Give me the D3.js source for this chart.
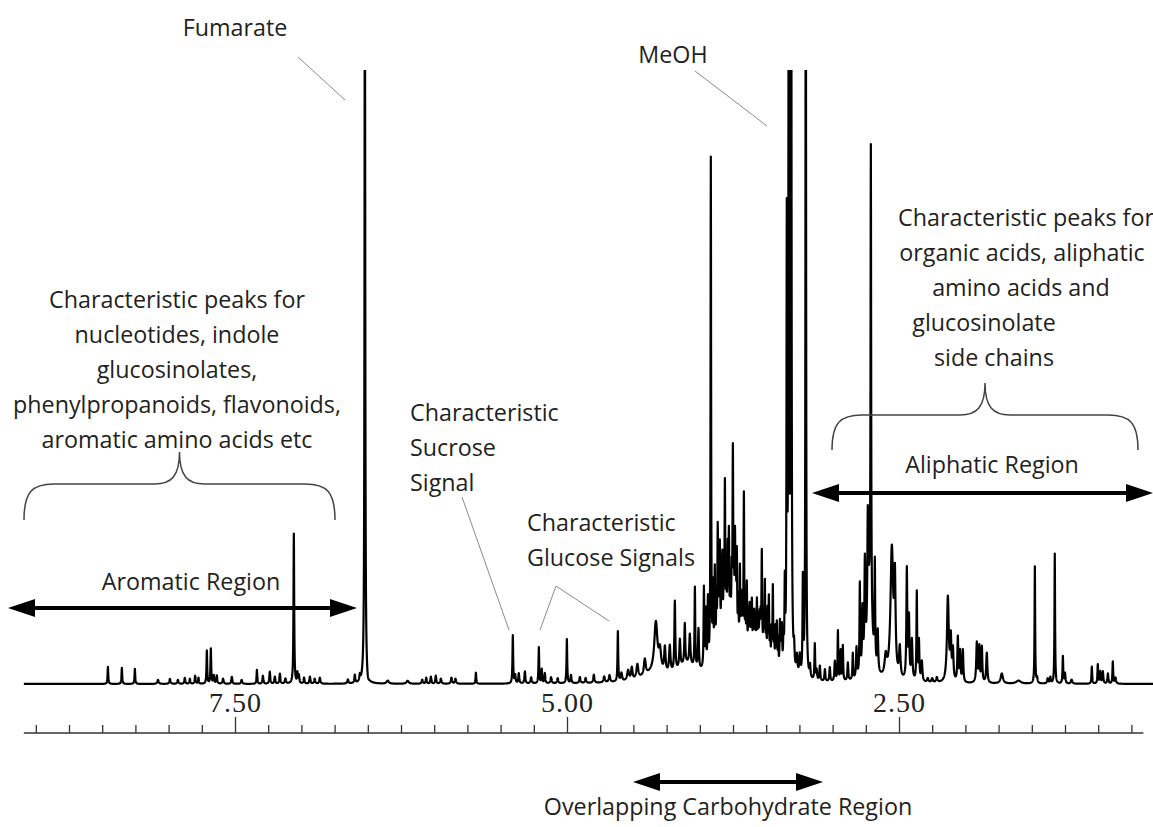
<!DOCTYPE html>
<html>
<head>
<meta charset="utf-8">
<script src="https://cdn.jsdelivr.net/npm/d3@7"></script>
<style>
  body { margin: 0; background: #fff; }
  svg { display: block; }
</style>
</head>
<body>
<svg id="chart" width="1153" height="827"></svg>
<script>
// Pics : [ppm, intensité (u.a.), demi-largeur en ppm]
const aromaticPeaks = [
  [8.457, 17, 0.003], [8.352, 16, 0.003], [8.254, 15, 0.003],
  [8.08, 4, 0.006], [7.99, 5, 0.005], [7.93, 4, 0.005], [7.878, 6, 0.004],
  [7.84, 5, 0.004], [7.80, 8, 0.004], [7.775, 6, 0.003],
  [7.712, 33, 0.003], [7.682, 35, 0.003], [7.66, 8, 0.004], [7.637, 8, 0.004],
  [7.59, 5, 0.005], [7.524, 7, 0.004], [7.45, 4, 0.005],
  [7.335, 14, 0.003], [7.29, 8, 0.004], [7.238, 12, 0.004], [7.20, 7, 0.004],
  [7.162, 10, 0.004], [7.12, 5, 0.005],
  [7.057, 150, 0.003], [7.03, 10, 0.003], [7.019, 8, 0.004], [6.98, 6, 0.004],
  [6.936, 7, 0.004], [6.90, 5, 0.005], [6.861, 6, 0.005],
  [6.65, 4, 0.005], [6.598, 8, 0.004], [6.56, 6, 0.004]
];

const fumaratePeaks = [
  [6.522, 800, 0.003], [6.50, -6, 0.01]
];

const olefinPeaks = [
  [6.35, 3, 0.01], [6.20, 3, 0.01], [6.09, 4, 0.005], [6.06, 6, 0.004],
  [6.025, 7, 0.004], [5.988, 8, 0.004], [5.95, 5, 0.005], [5.87, 6, 0.005],
  [5.84, 5, 0.005], [5.686, 11, 0.003]
];

const sugarPeaks = [
  [5.408, 48, 0.003], [5.39, 8, 0.004], [5.363, 10, 0.004], [5.317, 12, 0.004],
  [5.27, 6, 0.005], [5.212, 36, 0.003], [5.19, 14, 0.003], [5.167, 10, 0.004],
  [5.12, 6, 0.005], [5.07, 5, 0.005], [5.001, 44, 0.003], [4.97, 8, 0.004],
  [4.903, 6, 0.005], [4.86, 5, 0.005], [4.798, 8, 0.005], [4.72, 6, 0.006],
  [4.68, 7, 0.006], [4.617, 50, 0.003], [4.59, 8, 0.006], [4.54, 10, 0.008],
  [4.512, 12, 0.006], [4.47, 14, 0.008], [4.414, 16, 0.008],
  [4.331, 50, 0.014], [4.30, 20, 0.01], [4.263, 25, 0.006], [4.226, 27, 0.006],
  [4.188, 70, 0.004], [4.15, 28, 0.005], [4.113, 40, 0.004], [4.075, 30, 0.005],
  [4.037, 80, 0.003], [4.01, 40, 0.004], [3.969, 80, 0.003], [3.955, 55, 0.003],
  [3.939, 65, 0.003], [3.917, 505, 0.0025], [3.90, 70, 0.003], [3.887, 85, 0.003],
  [3.875, 50, 0.003], [3.865, 120, 0.003], [3.856, 45, 0.003], [3.849, 95, 0.003],
  [3.838, 50, 0.003], [3.83, 80, 0.003], [3.82, 50, 0.003], [3.811, 150, 0.003],
  [3.80, 55, 0.003], [3.79, 80, 0.003], [3.781, 95, 0.003], [3.77, 50, 0.003],
  [3.76, 55, 0.003], [3.751, 180, 0.003], [3.743, 50, 0.003], [3.735, 95, 0.003],
  [3.728, 45, 0.003], [3.721, 85, 0.003], [3.71, 45, 0.003], [3.698, 80, 0.003],
  [3.688, 45, 0.003], [3.68, 50, 0.003], [3.668, 160, 0.003], [3.656, 45, 0.003],
  [3.646, 70, 0.003], [3.635, 40, 0.003], [3.625, 50, 0.004], [3.615, 35, 0.003],
  [3.608, 50, 0.003], [3.598, 35, 0.003], [3.59, 40, 0.004], [3.58, 30, 0.003],
  [3.570, 50, 0.003], [3.56, 30, 0.003], [3.55, 35, 0.004], [3.542, 30, 0.003],
  [3.533, 100, 0.003], [3.52, 35, 0.003], [3.510, 75, 0.003], [3.50, 30, 0.003],
  [3.49, 50, 0.003], [3.480, 65, 0.003], [3.47, 30, 0.003], [3.46, 35, 0.003],
  [3.450, 80, 0.003], [3.44, 30, 0.003], [3.43, 40, 0.003], [3.420, 45, 0.003],
  [3.41, 30, 0.003], [3.397, 45, 0.003], [3.39, 30, 0.003], [3.382, 40, 0.003],
  [3.37, 30, 0.003], [3.360, 80, 0.003]
];

// bosses larges sous la zone des glucides
const carbHumps = [
  [3.78, 40, 0.09], [3.55, 20, 0.06], [4.10, 15, 0.08], [4.35, 8, 0.1]
];

const methylPeaks = [
  [3.345, 435, 0.0025], [3.33, 900, 0.003], [3.312, 900, 0.003],
  [3.29, 20, 0.004], [3.269, 18, 0.005], [3.247, 20, 0.005],
  [3.224, 95, 0.003], [3.202, 900, 0.0025]
];

const aliphaticPeaks = [
  [3.17, 12, 0.004], [3.134, 36, 0.003], [3.12, 10, 0.004], [3.096, 15, 0.004],
  [3.058, 12, 0.004], [3.021, 14, 0.004], [2.983, 20, 0.004], [2.96, 50, 0.003],
  [2.94, 30, 0.003], [2.923, 35, 0.003], [2.885, 18, 0.004], [2.848, 26, 0.003],
  [2.82, 30, 0.004], [2.795, 90, 0.003], [2.775, 60, 0.004], [2.757, 100, 0.004],
  [2.735, 110, 0.004], [2.712, 455, 0.0025], [2.72, 90, 0.02], [2.682, 100, 0.003],
  [2.66, 40, 0.004], [2.60, 20, 0.01], [2.554, 130, 0.012], [2.531, 90, 0.006],
  [2.494, 30, 0.006], [2.441, 110, 0.004], [2.425, 60, 0.004], [2.403, 40, 0.005],
  [2.366, 88, 0.003], [2.35, 40, 0.004], [2.328, 20, 0.005],
  [2.283, 4, 0.006], [2.25, 4, 0.006], [2.215, 5, 0.006],
  [2.132, 85, 0.008], [2.11, 40, 0.005], [2.094, 30, 0.005], [2.057, 44, 0.004],
  [2.04, 30, 0.004], [2.019, 32, 0.004], [1.914, 40, 0.005], [1.895, 35, 0.004],
  [1.876, 35, 0.004], [1.839, 30, 0.005], [1.726, 10, 0.01], [1.6, 3, 0.02],
  [1.477, 117, 0.0025], [1.46, 5, 0.004], [1.38, 5, 0.005], [1.36, 6, 0.004],
  [1.327, 130, 0.0025], [1.266, 27, 0.003], [1.25, 10, 0.004], [1.20, 4, 0.006],
  [1.048, 17, 0.003], [1.003, 19, 0.003], [0.985, 12, 0.004], [0.965, 12, 0.004],
  [0.927, 10, 0.004], [0.890, 22, 0.003], [0.87, 6, 0.005]
];

const tickValues = d3.range(34).map((i) => 9 - 0.25 * i);
const majorTicks = [7.5, 5.0, 2.5];
const tickLabels = ["7.50", "5.00", "2.50"];

const leftNote = ["Characteristic peaks for", "nucleotides, indole", "glucosinolates,",
  "phenylpropanoids, flavonoids,", "aromatic amino acids etc"];
const rightNote = ["Characteristic peaks for", "organic acids, aliphatic",
  "amino acids and", "glucosinolate", "side chains"];
const sucroseNote = ["Characteristic", "Sucrose", "Signal"];
const glucoseNote = ["Characteristic", "Glucose Signals"];

const allPeaks = [].concat(aromaticPeaks, fumaratePeaks, olefinPeaks, sugarPeaks,
  carbHumps, methylPeaks, aliphaticPeaks);

const W = 1153, H = 827;
const x = d3.scaleLinear().domain([9.0, 0.75]).range([35.8, 1131.4]);
const y = d3.scaleLinear().domain([0, 614]).range([684, 70]);

const svg = d3.select("#chart");
const FONT = "'Open Sans', 'Noto Sans', sans-serif";
const INK = "#231f20";

// Spectre : somme de lorentziennes des pics listés
const spectre = [];
for (let p = 9.09; p >= 0.57; p -= 0.001) {
  let v = 0;
  for (const [c, h, w] of allPeaks) v += h * w * w / (w * w + (p - c) * (p - c));
  spectre.push([p, v]);
}

svg.append("defs").append("clipPath").attr("id", "clip")
  .append("rect").attr("x", 0).attr("y", 70).attr("width", W).attr("height", H - 70);

svg.append("path")
  .datum(spectre)
  .attr("clip-path", "url(#clip)")
  .attr("fill", "none")
  .attr("stroke", "#000")
  .attr("stroke-width", 2.2)
  .attr("stroke-linejoin", "round")
  .attr("d", d3.line().x((d) => x(d[0])).y((d) => y(d[1])));

// Axe ppm
const axeY = 733;
svg.append("line")
  .attr("x1", x(9.09)).attr("x2", x(0.66))
  .attr("y1", axeY).attr("y2", axeY)
  .attr("stroke", "#333").attr("stroke-width", 1.5);

const axe = svg.append("g")
  .attr("transform", `translate(0,${axeY})`)
  .call(d3.axisTop(x).tickValues(tickValues).tickSizeInner(8).tickSizeOuter(0)
    .tickFormat((d) => {
      const i = majorTicks.findIndex((m) => Math.abs(m - d) < 1e-6);
      return i >= 0 ? tickLabels[i] : "";
    }))
  .call((g) => g.select(".domain").remove());

axe.selectAll(".tick line").attr("stroke", "#333").attr("stroke-width", 1.3)
  .attr("y2", (d) => majorTicks.some((m) => Math.abs(m - d) < 1e-6) ? -16 : -8);
axe.selectAll(".tick text")
  .attr("y", -21)
  .attr("dy", 0)
  .attr("fill", "#222")
  .attr("font-family", "'Liberation Serif', 'DejaVu Serif', serif")
  .attr("font-size", "28px")
  .attr("letter-spacing", "1px");

// Textes
function bloc(lignes, cx, y0, pas, ancre) {
  const g = svg.append("g")
    .attr("font-family", FONT).attr("font-size", "23.3px").attr("fill", INK);
  lignes.forEach((t, i) => {
    g.append("text")
      .attr("x", Array.isArray(cx) ? cx[i] : cx)
      .attr("y", y0 + i * pas)
      .attr("text-anchor", ancre)
      .text(t);
  });
}

bloc(["Fumarate"], 235, 36, 0, "middle");
bloc(["MeOH"], 673, 63, 0, "middle");
bloc(leftNote, 177, 308, 35, "middle");
bloc(rightNote, [1026, 1022, 1021, 984, 994], 226, 35, "middle");
bloc(sucroseNote, 410, 421, 35, "start");
bloc(glucoseNote, 527, 531, 35, "start");
bloc(["Aromatic Region"], 191, 590, 0, "middle");
bloc(["Aliphatic Region"], 992, 473, 0, "middle");
bloc(["Overlapping Carbohydrate Region"], 728, 815, 0, "middle");

// Traits de renvoi
const renvois = [
  [298, 57, 345, 100], [695, 71, 767, 126],
  [462, 497, 509, 630], [556, 586, 540, 630], [556, 586, 609, 621]
];
svg.append("g").selectAll("line").data(renvois).join("line")
  .attr("x1", (d) => d[0]).attr("y1", (d) => d[1])
  .attr("x2", (d) => d[2]).attr("y2", (d) => d[3])
  .attr("stroke", "#8a8a8a").attr("stroke-width", 1);

// Accolades
function accolade(x1, x2, yBas, yHaut, yPointe) {
  const xm = (x1 + x2) / 2;
  const r = 30;
  const d = `M${x1},${yBas} C${x1},${yHaut + 8} ${x1 + 8},${yHaut} ${x1 + r},${yHaut}
    L${xm - r + 5},${yHaut} C${xm - 8},${yHaut} ${xm},${yHaut - 8} ${xm},${yPointe}
    C${xm},${yHaut - 8} ${xm + 8},${yHaut} ${xm + r - 5},${yHaut}
    L${x2 - r},${yHaut} C${x2 - 8},${yHaut} ${x2},${yHaut + 8} ${x2},${yBas}`;
  svg.append("path").attr("d", d).attr("fill", "none")
    .attr("stroke", "#444").attr("stroke-width", 1.5);
}
accolade(24, 335, 520, 484, 452);
accolade(832, 1138, 450, 415, 383);

// Flèches doubles
function fleche(x1, x2, yy) {
  const L = 27, h = 9;
  svg.append("line").attr("x1", x1 + L - 2).attr("x2", x2 - L + 2)
    .attr("y1", yy).attr("y2", yy).attr("stroke", "#000").attr("stroke-width", 4);
  svg.append("path").attr("fill", "#000")
    .attr("d", `M${x1},${yy} L${x1 + L},${yy - h} L${x1 + L},${yy + h} Z`);
  svg.append("path").attr("fill", "#000")
    .attr("d", `M${x2},${yy} L${x2 - L},${yy - h} L${x2 - L},${yy + h} Z`);
}
fleche(8, 357, 608);
fleche(812, 1153, 493);
fleche(633, 823, 782);
</script>
</body>
</html>
